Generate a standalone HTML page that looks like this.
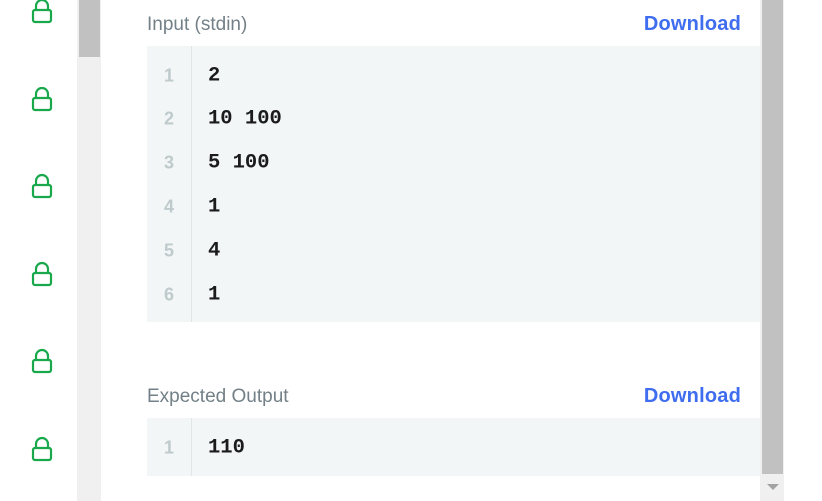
<!DOCTYPE html>
<html><head><style>
body{margin:0;width:822px;height:501px;position:relative;overflow:hidden;background:#fff;font-family:"Liberation Sans",sans-serif}
.a{position:absolute}
.lbl{position:absolute;left:147px;font-size:19px;color:#738087}
.dl{position:absolute;right:81px;font-size:20px;color:#3f6df0;font-weight:bold;letter-spacing:0.2px}
.box{position:absolute;left:147px;width:613px;background:#f3f6f7}
.gut{position:absolute;left:0;top:0;bottom:0;width:44px;border-right:1px solid #e1e6e8}
.ln{position:absolute;left:0;width:44px;text-align:center;font-size:18px;font-weight:bold;color:#bfcacd;transform:translateY(-50%)}
.cd{position:absolute;left:61px;font-family:"Liberation Mono",monospace;font-weight:bold;font-size:20.5px;color:#1b1b1b;transform:translateY(-50%)}
</style></head><body>
<div class="a" style="left:77px;top:0;width:24px;height:501px;background:#f0f0f0"></div>
<div class="a" style="left:79px;top:0;width:21px;height:57px;background:#c1c1c1"></div>
<div class="a" style="left:760px;top:0;width:24px;height:501px;background:#f0f0f0"></div>
<div class="a" style="left:762px;top:0;width:21px;height:474px;background:#c1c1c1"></div>
<div class="a" style="left:767px;top:484px;width:0;height:0;border-left:6px solid transparent;border-right:6px solid transparent;border-top:6px solid #a3a3a3"></div>

<svg class="a" style="left:0;top:0" width="77" height="501">
<g fill="none" stroke="#19a84b" stroke-width="2.2">
<g transform="translate(0,-78)"><path d="M36 88 v-4 a6 6 0 0 1 12 0 v4"/><rect x="33" y="88" width="18" height="12" rx="2"/></g>
<g transform="translate(0,10)"><path d="M36 88 v-4 a6 6 0 0 1 12 0 v4"/><rect x="33" y="88" width="18" height="12" rx="2"/></g>
<g transform="translate(0,97)"><path d="M36 88 v-4 a6 6 0 0 1 12 0 v4"/><rect x="33" y="88" width="18" height="12" rx="2"/></g>
<g transform="translate(0,185)"><path d="M36 88 v-4 a6 6 0 0 1 12 0 v4"/><rect x="33" y="88" width="18" height="12" rx="2"/></g>
<g transform="translate(0,272)"><path d="M36 88 v-4 a6 6 0 0 1 12 0 v4"/><rect x="33" y="88" width="18" height="12" rx="2"/></g>
<g transform="translate(0,360)"><path d="M36 88 v-4 a6 6 0 0 1 12 0 v4"/><rect x="33" y="88" width="18" height="12" rx="2"/></g>
</g></svg>

<div class="lbl" style="top:14px">Input (stdin)</div>
<div class="dl" style="top:13px">Download</div>
<div class="box" style="top:46px;height:276px">
<div class="gut"></div>
<div class="ln" style="top:30px">1</div><div class="cd" style="top:30px">2</div>
<div class="ln" style="top:73px">2</div><div class="cd" style="top:73px">10 100</div>
<div class="ln" style="top:117px">3</div><div class="cd" style="top:117px">5 100</div>
<div class="ln" style="top:161px">4</div><div class="cd" style="top:161px">1</div>
<div class="ln" style="top:205px">5</div><div class="cd" style="top:205px">4</div>
<div class="ln" style="top:249px">6</div><div class="cd" style="top:249px">1</div>
</div>

<div class="lbl" style="top:386px">Expected Output</div>
<div class="dl" style="top:385px">Download</div>
<div class="box" style="top:418px;height:58px">
<div class="gut"></div>
<div class="ln" style="top:30px">1</div><div class="cd" style="top:30px">110</div>
</div>
</body></html>
